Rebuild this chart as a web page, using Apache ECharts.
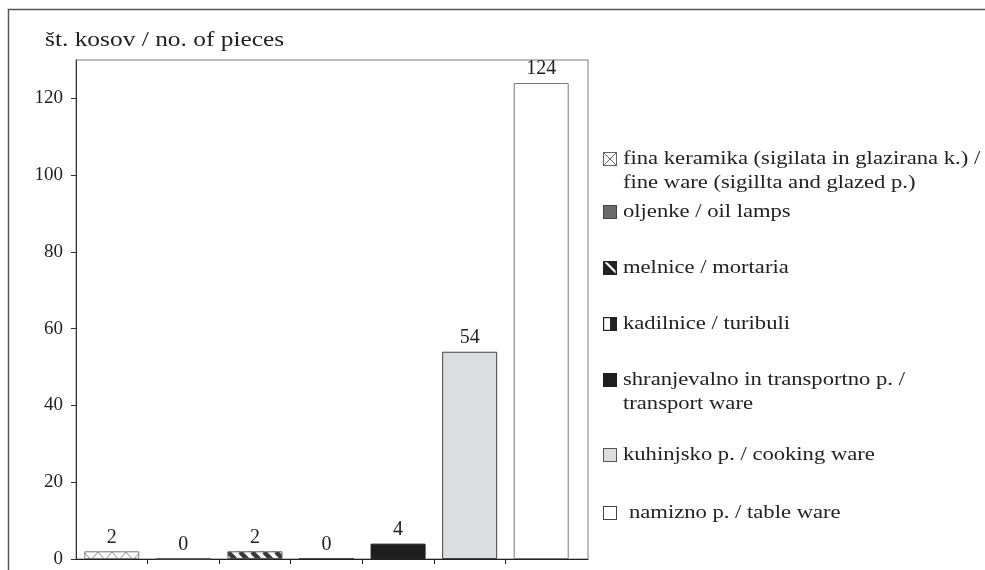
<!DOCTYPE html>
<html>
<head>
<meta charset="utf-8">
<script src="https://cdn.jsdelivr.net/npm/echarts@6/dist/echarts.min.js"></script>
<style>html,body{margin:0;padding:0;background:#fff;}#chart{width:985px;height:570px;}</style>
</head>
<body>
<div id="chart"></div>
<script>
// ---- data ----
const categories = ['fina keramika', 'oljenke', 'melnice', 'kadilnice', 'shranjevalno', 'kuhinjsko', 'namizno'];
const values = [2, 0, 2, 0, 4, 54, 124];
const legendLine1 = [
  'fina keramika (sigilata in glazirana k.) /',
  'oljenke / oil lamps',
  'melnice / mortaria',
  'kadilnice / turibuli',
  'shranjevalno in transportno p. /',
  'kuhinjsko p. / cooking ware',
  'namizno p. / table ware'
];
const legendLine2 = ['fine ware (sigillta and glazed p.)', '', '', '', 'transport ware', '', ''];
const yTicks = [0, 20, 40, 60, 80, 100, 120];
const yTitle = 'št. kosov / no. of pieces';

const FONT = 'Liberation Serif';

function makeCanvas(w, h, draw) {
  const c = document.createElement('canvas');
  c.width = w; c.height = h;
  const ctx = c.getContext('2d');
  draw(ctx, w, h);
  return c;
}
// bar patterns
const zigzag = makeCanvas(14, 8, (ctx) => {
  ctx.fillStyle = '#fff'; ctx.fillRect(0, 0, 14, 8);
  ctx.strokeStyle = '#8a8a8a'; ctx.lineWidth = 1;
  ctx.beginPath(); ctx.moveTo(0, 0); ctx.lineTo(7, 8); ctx.lineTo(14, 0); ctx.stroke();
});
const stripes = makeCanvas(12, 12, (ctx) => {
  ctx.fillStyle = '#fff'; ctx.fillRect(0, 0, 12, 12);
  ctx.strokeStyle = '#3a3a3a'; ctx.lineWidth = 4.5;
  for (let k = -2; k <= 2; k++) {
    ctx.beginPath(); ctx.moveTo(k * 12, 0); ctx.lineTo(k * 12 + 12, 12); ctx.stroke();
  }
});
// legend icons
function icon(draw) {
  return 'image://' + makeCanvas(14, 14, (ctx) => { draw(ctx); }).toDataURL();
}
const icons = [
  icon((ctx) => { ctx.fillStyle = '#fff'; ctx.fillRect(0,0,14,14); ctx.strokeStyle = '#666'; ctx.lineWidth = 1;
    ctx.strokeRect(0.5,0.5,13,13); ctx.beginPath(); ctx.moveTo(0.5,13.5); ctx.lineTo(13.5,0.5); ctx.moveTo(0.5,0.5); ctx.lineTo(7,7); ctx.moveTo(13.5,13.5); ctx.lineTo(7,7); ctx.stroke(); }),
  icon((ctx) => { ctx.fillStyle = '#6a6a6a'; ctx.fillRect(0,0,14,14); ctx.strokeStyle = '#444'; ctx.strokeRect(0.5,0.5,13,13); }),
  icon((ctx) => { ctx.fillStyle = '#fff'; ctx.fillRect(0,0,14,14); ctx.fillStyle = '#222';
    ctx.beginPath(); ctx.moveTo(0,0); ctx.lineTo(14,14); ctx.lineTo(0,14); ctx.closePath(); ctx.fill();
    ctx.beginPath(); ctx.moveTo(3,0); ctx.lineTo(14,0); ctx.lineTo(14,11); ctx.closePath(); ctx.fill();
    ctx.strokeStyle = '#222'; ctx.lineWidth = 1.4; ctx.strokeRect(0.7,0.7,12.6,12.6); }),
  icon((ctx) => { ctx.fillStyle = '#fff'; ctx.fillRect(0,0,14,14); ctx.fillStyle = '#222'; ctx.fillRect(7,0,7,14);
    ctx.strokeStyle = '#222'; ctx.lineWidth = 1.2; ctx.strokeRect(0.6,0.6,12.8,12.8); }),
  icon((ctx) => { ctx.fillStyle = '#1e1e1e'; ctx.fillRect(0,0,14,14); }),
  icon((ctx) => { ctx.fillStyle = '#dcdde0'; ctx.fillRect(0,0,14,14); ctx.strokeStyle = '#555'; ctx.lineWidth = 1; ctx.strokeRect(0.5,0.5,13,13); }),
  icon((ctx) => { ctx.fillStyle = '#fff'; ctx.fillRect(0,0,14,14); ctx.strokeStyle = '#444'; ctx.lineWidth = 1; ctx.strokeRect(0.5,0.5,13,13); })
];

const barStyles = [
  { color: { image: zigzag, repeat: 'repeat' }, borderColor: '#777', borderWidth: 1 },
  { color: '#6a6a6a', borderColor: '#444', borderWidth: 1 },
  { color: { image: stripes, repeat: 'repeat' }, borderColor: '#555', borderWidth: 1 },
  { color: '#fff', borderColor: '#222', borderWidth: 1 },
  { color: '#1e1e1e', borderColor: '#1e1e1e', borderWidth: 1 },
  { color: '#dcdde0', borderColor: '#444', borderWidth: 1 },
  { color: '#fff', borderColor: '#777', borderWidth: 1 }
];

// layout of legend rows (vertical centres of icon / first text line)
const legendCenters = [159, 212, 268, 324, 380, 455, 513];
const legendTextX = [623, 623, 623, 623, 623, 623, 629];
const LEG_SCALE = 1.19;

const series = categories.map((c, i) => ({
  name: c,
  type: 'bar',
  stack: 'all',
  xAxisIndex: 0,
  yAxisIndex: 0,
  barWidth: 55,
  data: categories.map((cc, j) => (j === i ? values[i] : '-')),
  itemStyle: barStyles[i],
  label: {
    show: true, position: 'top', distance: 4,
    fontFamily: FONT, fontSize: 20, color: '#222'
  },
  emphasis: { disabled: true },
  animation: false
}));

const legends = categories.map((c, i) => ({
  data: [{ name: c, icon: icons[i] }],
  left: 603,
  top: legendCenters[i] - 7,
  padding: 0,
  itemWidth: 14,
  itemHeight: 14,
  itemGap: 0,
  selectedMode: false,
  formatter: () => '',
  textStyle: { fontFamily: FONT, fontSize: 1, color: '#222' }
}));

const graphics = [
  { type: 'rect', shape: { x: 8.5, y: 9.5, width: 1200, height: 800 }, style: { fill: 'none', stroke: '#555', lineWidth: 1.5 }, silent: true },
  { type: 'text', x: 45, y: 40, scaleX: 1.21, style: { text: yTitle, fontFamily: FONT, fontSize: 21, fill: '#222', verticalAlign: 'middle', align: 'left' } }
];
legendLine1.forEach((t, i) => {
  graphics.push({ type: 'text', x: legendTextX[i], y: legendCenters[i], scaleX: LEG_SCALE,
    style: { text: t, fontFamily: FONT, fontSize: 19, fill: '#222', verticalAlign: 'middle', align: 'left' } });
  if (legendLine2[i]) {
    graphics.push({ type: 'text', x: legendTextX[i], y: legendCenters[i] + 24, scaleX: LEG_SCALE,
      style: { text: legendLine2[i], fontFamily: FONT, fontSize: 19, fill: '#222', verticalAlign: 'middle', align: 'left' } });
  }
});

const chart = echarts.init(document.getElementById('chart'));
chart.setOption({
  animation: false,
  backgroundColor: '#fff',
  grid: [
    { left: 76, top: 60, width: 501, height: 499, containLabel: false },
    { left: 76, top: 60, width: 512, height: 499, show: true, borderColor: '#7a7a7a', borderWidth: 1, backgroundColor: 'transparent' }
  ],
  xAxis: [
    { type: 'category', gridIndex: 0, data: categories,
      axisLine: { lineStyle: { color: '#222', width: 1 } },
      axisTick: { show: false },
      axisLabel: { show: false } },
    { type: 'value', gridIndex: 1, min: 0, max: 1,
      axisLine: { show: true, onZero: false, lineStyle: { color: '#222', width: 1 } },
      axisTick: { show: false }, axisLabel: { show: false }, splitLine: { show: false } },
    // category boundary ticks (interior only)
    { type: 'value', gridIndex: 0, min: 0, max: categories.length, position: 'bottom',
      axisLine: { show: false },
      axisTick: { show: true, length: 5, customValues: categories.slice(1).map((c, i) => i + 1), lineStyle: { color: '#222' } },
      axisLabel: { show: false }, splitLine: { show: false } }
  ],
  yAxis: [
    { type: 'value', gridIndex: 0, min: 0, max: 130, interval: 20,
      axisLine: { show: true, lineStyle: { color: '#333', width: 1 } },
      axisTick: { show: true, length: 5, customValues: yTicks, lineStyle: { color: '#333' } },
      axisLabel: { customValues: yTicks, margin: 13, fontFamily: FONT, fontSize: 19, color: '#222' },
      splitLine: { show: false } },
    { type: 'value', gridIndex: 1, show: false, min: 0, max: 1 }
  ],
  legend: legends,
  graphic: graphics,
  series: series
});
</script>
</body>
</html>
